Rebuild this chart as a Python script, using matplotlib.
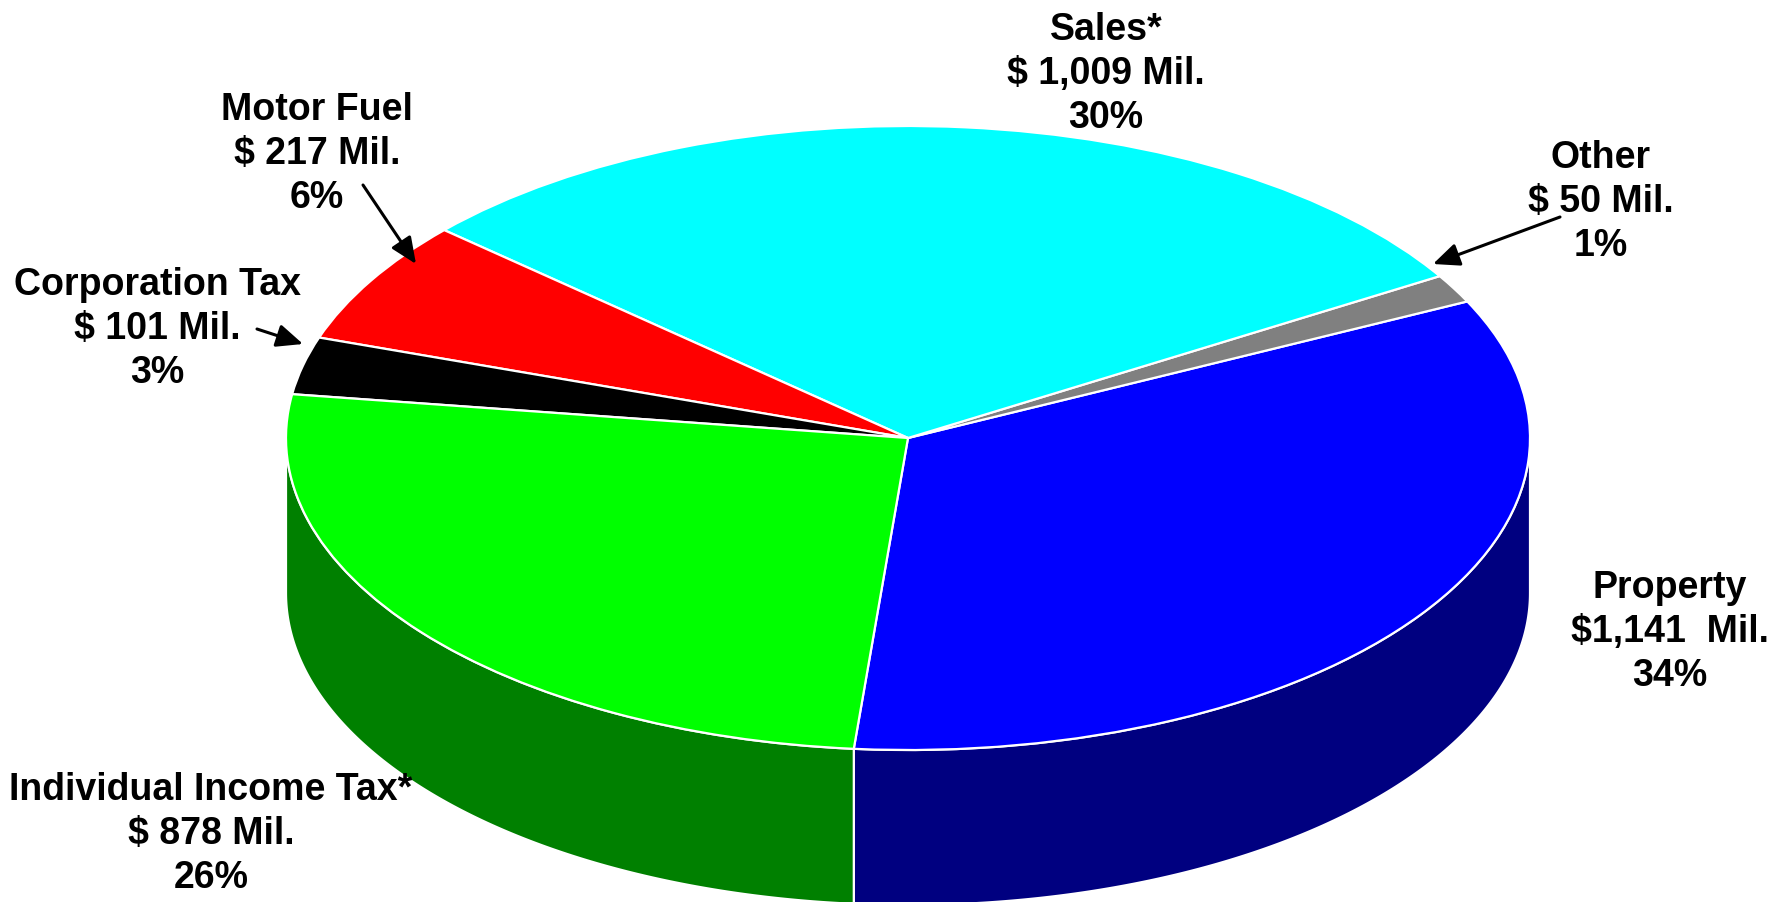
import numpy as np
import matplotlib
matplotlib.use("Agg")
import matplotlib.pyplot as plt
from matplotlib.patches import Wedge, Polygon
from matplotlib.transforms import Affine2D

# Revenue sources, in the order they are laid out counter-clockwise
categories = ["Property", "Other", "Sales*", "Motor Fuel", "Corporation Tax",
              "Individual Income Tax*"]
revenue_mil = [1141, 50, 1009, 217, 101, 878]
amount_formats = ["${:,}  Mil.", "$ {:,} Mil.", "$ {:,} Mil.", "$ {:,} Mil.",
                  "$ {:,} Mil.", "$ {:,} Mil."]
top_colors = ["#0000FF", "#808080", "#00FFFF", "#FF0000", "#000000", "#00FF00"]
side_colors = ["#000080", "#404040", "#008080", "#800000", "#000000", "#008000"]

W, H = 1779, 903
fig = plt.figure(figsize=(W / 100, H / 100), dpi=100)
ax = fig.add_axes([0, 0, 1, 1])
ax.set_xlim(0, W)
ax.set_ylim(H, 0)
ax.axis("off")

# Tilted-disc geometry
cx, cy = 908, 439
rx, ry = 622, 312
depth = 155
start_angle = -95.0

values = np.array(revenue_mil, dtype=float)
total = values.sum()
spans = values / total * 360.0
edges = start_angle + np.concatenate([[0], np.cumsum(spans)])

# Side walls (only the front half of the disc is visible)
for i in range(len(values)):
    a1, a2 = edges[i], edges[i + 1]
    for k in (-1, 0, 1):
        lo = max(a1, 180 + 360 * k)
        hi = min(a2, 360 + 360 * k)
        if hi <= lo:
            continue
        t = np.radians(np.linspace(lo, hi, 200))
        top_x = cx + rx * np.cos(t)
        top_y = cy - ry * np.sin(t)
        pts = np.vstack([
            np.column_stack([top_x, top_y]),
            np.column_stack([top_x[::-1], top_y[::-1] + depth]),
        ])
        ax.add_patch(Polygon(pts, closed=True, facecolor=side_colors[i],
                             edgecolor="white", linewidth=1.6,
                             joinstyle="round"))

# Top face: wedges on a unit circle squashed into an ellipse
disc = Affine2D().scale(rx, -ry).translate(cx, cy) + ax.transData
for i in range(len(values)):
    ax.add_patch(Wedge((0, 0), 1.0, edges[i], edges[i + 1],
                       facecolor=top_colors[i], edgecolor="white",
                       linewidth=1.6, joinstyle="round", transform=disc))

# Labels: name, amount, share
label_x = [1670, 1601, 1106, 317, 157, 211]
label_first_baseline = [598, 168, 40, 120, 295, 800]
line_step = 44
font = dict(family=["Liberation Sans", "DejaVu Sans"], fontsize=27,
            fontweight="bold", color="black", ha="center", va="baseline")
for i, name in enumerate(categories):
    lines = [name,
             amount_formats[i].format(revenue_mil[i]),
             f"{round(values[i] / total * 100):.0f}%"]
    for j, line in enumerate(lines):
        ax.text(label_x[i], label_first_baseline[i] + j * line_step, line,
                **font)

# Leader arrows for the thin slices
arrow_slices = [1, 3, 4]
arrow_tails = [(1560, 218), (363, 186), (257, 330)]
arrow_tips = [(1433, 265), (416, 265), (303, 345)]
for idx, tail, tip in zip(arrow_slices, arrow_tails, arrow_tips):
    ax.annotate("", xy=tip, xytext=tail,
                arrowprops=dict(arrowstyle="-|>,head_length=0.8,head_width=0.35",
                                color="black", lw=2.2, mutation_scale=20,
                                shrinkA=0, shrinkB=0))

fig.savefig("out.png", dpi=100, facecolor="white")
